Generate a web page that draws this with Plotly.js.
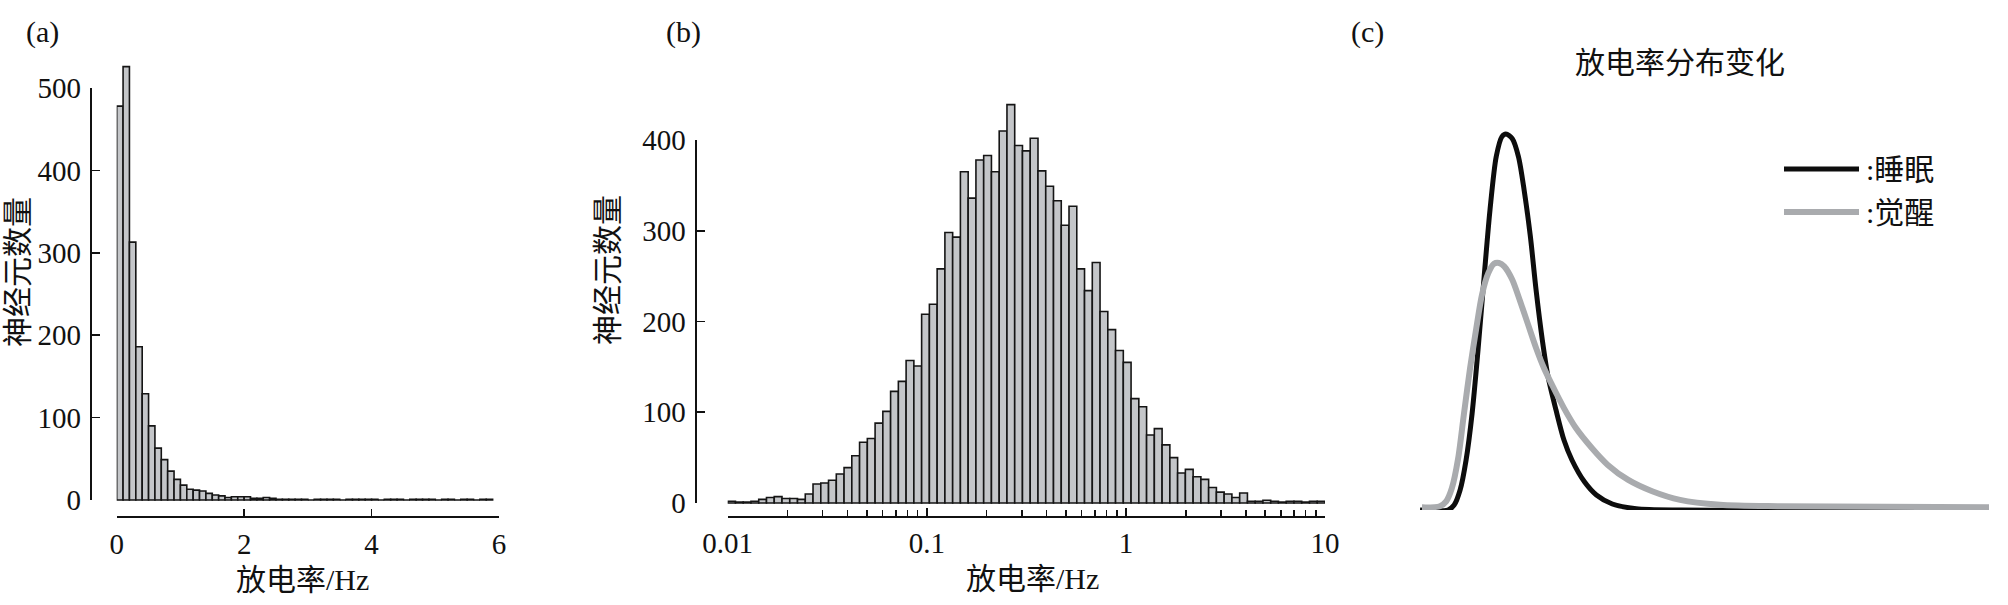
<!DOCTYPE html>
<html>
<head>
<meta charset="utf-8">
<script src="https://cdn.plot.ly/plotly-3.0.1.min.js"></script>
<style>html,body{margin:0;padding:0;background:#fff;}#chart{width:2008px;height:605px;}</style>
</head>
<body>
<div id="chart"></div>
<script>
// ---------- data ----------
// (a) firing-rate histogram, linear bins of 0.1 Hz from 0 to 5.9 Hz
const aBinStart = 0;
const aBinWidth = 0.1;
const aCounts = [478, 526, 313, 186, 129, 90, 63, 49, 35, 25,
                 18, 13, 12, 11, 8, 6, 5, 3, 4, 4,
                 4, 2, 2, 3, 2, 1, 1, 1, 1, 1,
                 0, 1, 1, 1, 1, 0, 1, 1, 1, 1,
                 1, 0, 1, 1, 1, 0, 1, 1, 1, 1,
                 0, 1, 1, 0, 1, 1, 0, 1, 1];
const aTickVals = [0, 2, 4, 6];
const aYTickVals = [0, 100, 200, 300, 400, 500];

// (b) firing-rate histogram, log-spaced bins from 0.01 Hz to 10 Hz
const bLogMin = -2;
const bLogMax = 1;
const bCounts = [2, 1, 1, 2, 4, 6, 7, 5, 5, 4,
                 10, 21, 22, 25, 32, 39, 52, 67, 71, 88,
                 101, 123, 134, 157, 151, 208, 219, 258, 298, 293,
                 365, 336, 378, 383, 365, 410, 439, 394, 388, 402,
                 366, 349, 333, 306, 327, 258, 234, 265,
                 211, 191, 168, 155, 115, 106, 75, 82, 64, 50,
                 33, 37, 29, 26, 17, 12, 10, 6, 11, 2,
                 2, 3, 2, 1, 2, 2, 1, 2, 2];
const bTickHz = [0.01, 0.1, 1, 10];
const bTickText = ['0.01', '0.1', '1', '10'];
const bMinorHz = [0.02,0.03,0.04,0.05,0.06,0.07,0.08,0.09,
                  0.2,0.3,0.4,0.5,0.6,0.7,0.8,0.9,
                  2,3,4,5,6,7,8,9];
const bYTickVals = [0, 100, 200, 300, 400];

// (c) schematic distributions (arbitrary units)
const sleepX = [0, 4.9, 6.0, 7.05, 8.1, 9.16, 10.2, 11.27, 12.3, 13.4, 14.4, 15.1, 16.2, 17.3, 18.3, 19.4, 20.4, 21.5, 22.5, 23.9, 25.3, 26.7, 28.9, 31.0, 33.8, 38.0, 45.8, 63.4, 100];
const sleepY = [0, 0, 0.013, 0.053, 0.133, 0.257, 0.426, 0.62, 0.798, 0.94, 0.993, 1.0, 0.988, 0.94, 0.851, 0.727, 0.585, 0.452, 0.355, 0.266, 0.186, 0.133, 0.075, 0.04, 0.016, 0.0035, 0, 0, 0];
const wakeX = [0.35, 3.5, 4.6, 5.6, 6.7, 7.7, 8.8, 9.9, 10.9, 12.0, 13.0, 13.9, 14.8, 16.2, 17.6, 19.0, 20.4, 21.8, 23.2, 25.3, 27.4, 30.2, 33.0, 36.6, 40.8, 45.7, 52.7, 63.3, 100];
const wakeY = [0.007, 0.01, 0.023, 0.058, 0.137, 0.253, 0.377, 0.484, 0.573, 0.63, 0.655, 0.657, 0.648, 0.613, 0.555, 0.493, 0.431, 0.377, 0.333, 0.271, 0.218, 0.165, 0.12, 0.08, 0.05, 0.027, 0.014, 0.01, 0.007];
const seriesNames = ['睡眠', '觉醒'];

// ---------- layout helpers (pixel geometry) ----------
const W = 2008, H = 605;
const px = v => v / W;
const py = v => 1 - v / H;
function yDomain(pyZero, k, lo, hi) { return [py(pyZero - lo * k), py(pyZero - hi * k)]; }

const serif = 'Liberation Serif, "Noto Sans CJK SC", serif';
const tickFont = {family: serif, size: 29, color: '#111'};
const barFill = '#c4c6c9';
const barLine = {color: '#151515', width: 1.6};

// (a) geometry
const aZeroPy = 500, aK = 412 / 500;
// (b) geometry
const bZeroPy = 503, bK = 363 / 400;

const aX = aCounts.map((_, i) => aBinStart + (i + 0.5) * aBinWidth);
const bW = (bLogMax - bLogMin) / bCounts.length;
const bX = bCounts.map((_, i) => bLogMin + (i + 0.5) * bW);

const traces = [
  {type: 'bar', x: aX, y: aCounts, width: aBinWidth, xaxis: 'x', yaxis: 'y',
   marker: {color: barFill, line: barLine}, hoverinfo: 'x+y', showlegend: false},
  {type: 'scatter', x: [], y: [], xaxis: 'x', yaxis: 'y4', showlegend: false, hoverinfo: 'skip'},
  {type: 'bar', x: bX, y: bCounts, width: bW, xaxis: 'x2', yaxis: 'y2',
   marker: {color: barFill, line: barLine}, hoverinfo: 'y', showlegend: false},
  {type: 'scatter', x: [], y: [], xaxis: 'x2', yaxis: 'y5', showlegend: false, hoverinfo: 'skip'},
  {type: 'scatter', mode: 'lines', name: seriesNames[0], x: sleepX, y: sleepY, xaxis: 'x3', yaxis: 'y3',
   line: {color: '#0d0d0d', width: 5, shape: 'spline', smoothing: 0.8}, cliponaxis: false, showlegend: false},
  {type: 'scatter', mode: 'lines', name: seriesNames[1], x: wakeX, y: wakeY, xaxis: 'x3', yaxis: 'y3',
   line: {color: '#a9abae', width: 6, shape: 'spline', smoothing: 0.8}, cliponaxis: false, showlegend: false}
];

const axisCommon = {showgrid: false, zeroline: false, showline: true, linecolor: '#111', linewidth: 2,
  ticks: 'inside', tickcolor: '#111', tickwidth: 1.6, tickfont: tickFont, fixedrange: true};

const layout = {
  width: W, height: H,
  margin: {l: 0, r: 0, t: 0, b: 0},
  paper_bgcolor: '#fff', plot_bgcolor: 'rgba(0,0,0,0)',
  bargap: 0,
  showlegend: false,
  title: {text: '放电率分布变化', font: {family: serif, size: 30, color: '#111'},
          xref: 'container', yref: 'container', x: px(1680), y: py(62), xanchor: 'center', yanchor: 'middle'},
  // (a)
  xaxis: Object.assign({}, axisCommon, {domain: [px(116.7), px(499)], range: [0, 6], anchor: 'free', position: py(517),
    tickmode: 'array', tickvals: aTickVals, ticklen: 7, ticklabelstandoff: 1}),
  yaxis: {domain: yDomain(aZeroPy, aK, -4, 540), range: [-4, 540], visible: false, anchor: 'x', fixedrange: true},
  yaxis4: Object.assign({}, axisCommon, {domain: yDomain(aZeroPy, aK, 0, 500), range: [0, 500], anchor: 'free', position: px(90.7),
    tickmode: 'array', tickvals: aYTickVals, ticklen: 8, ticklabelstandoff: 3}),
  // (b)
  xaxis2: Object.assign({}, axisCommon, {domain: [px(727.7), px(1325)], range: [bLogMin, bLogMax], anchor: 'free', position: py(517),
    tickmode: 'array', tickvals: bTickHz.map(Math.log10), ticktext: bTickText, ticklen: 8, ticklabelstandoff: 0,
    minor: {tickmode: 'array', tickvals: bMinorHz.map(Math.log10), ticks: 'inside', ticklen: 6, tickwidth: 1.5, tickcolor: '#111', showgrid: false}}),
  yaxis2: {domain: yDomain(bZeroPy, bK, -4, 460), range: [-4, 460], visible: false, anchor: 'x2', fixedrange: true},
  yaxis5: Object.assign({}, axisCommon, {domain: yDomain(bZeroPy, bK, 0, 400), range: [0, 400], anchor: 'free', position: px(695.5),
    tickmode: 'array', tickvals: bYTickVals, ticklen: 8, ticklabelstandoff: 3}),
  // (c)
  xaxis3: {domain: [px(1420), px(1989)], range: [0, 100], visible: false, anchor: 'y3', fixedrange: true},
  yaxis3: {domain: yDomain(510, 376, 0, 1.15), range: [0, 1.15], visible: false, anchor: 'x3', fixedrange: true},
  shapes: [
    {type: 'line', xref: 'paper', yref: 'paper', x0: px(1784), x1: px(1859), y0: py(169), y1: py(169), line: {color: '#0d0d0d', width: 5}},
    {type: 'line', xref: 'paper', yref: 'paper', x0: px(1784), x1: px(1859), y0: py(212), y1: py(212), line: {color: '#a9abae', width: 6}}
  ],
  annotations: [
    {text: '(a)', x: px(42), y: py(32)},
    {text: '(b)', x: px(683), y: py(32)},
    {text: '(c)', x: px(1367), y: py(32)},
    {text: '神经元数量', x: px(17), y: py(272), textangle: -90},
    {text: '神经元数量', x: px(607), y: py(270), textangle: -90},
    {text: '放电率/Hz', x: px(302), y: py(579)},
    {text: '放电率/Hz', x: px(1032), y: py(578)},
    {text: ':' + seriesNames[0], x: px(1864), y: py(169), xanchor: 'left'},
    {text: ':' + seriesNames[1], x: px(1864), y: py(212), xanchor: 'left'}
  ].map(a => Object.assign({xref: 'paper', yref: 'paper', showarrow: false, xanchor: 'center', yanchor: 'middle',
                            font: {family: serif, size: 30, color: '#111'}}, a))
};

Plotly.newPlot('chart', traces, layout, {staticPlot: true, displayModeBar: false});
</script>
</body>
</html>
